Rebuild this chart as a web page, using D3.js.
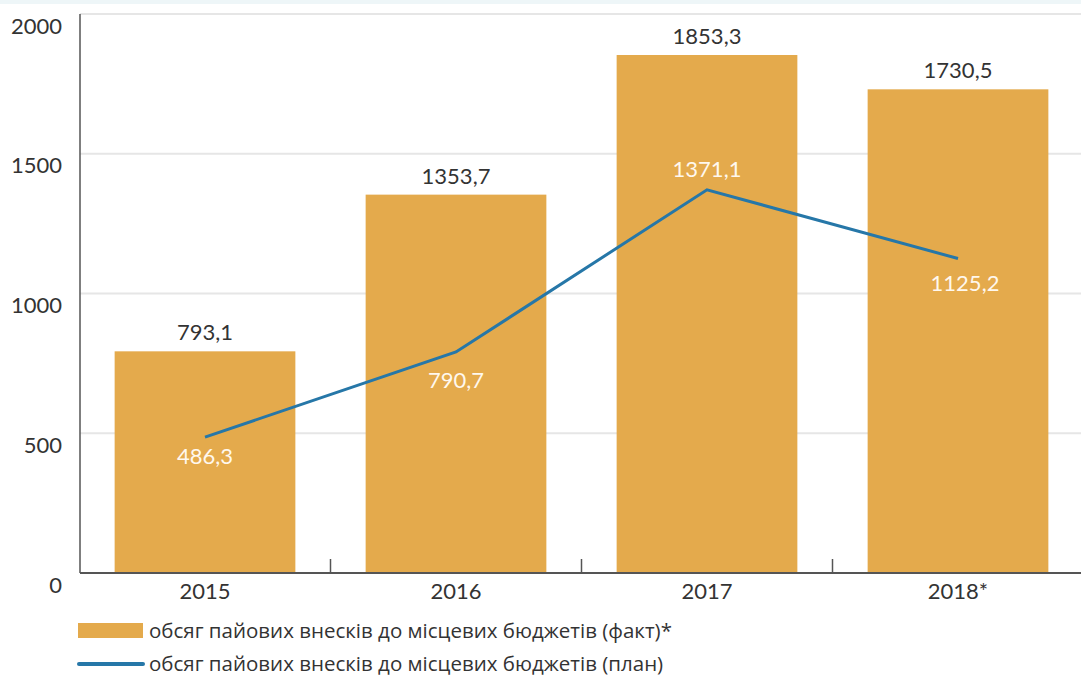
<!DOCTYPE html>
<html>
<head>
<meta charset="utf-8">
<script src="https://cdn.jsdelivr.net/npm/d3@7"></script>
<style>
  body { margin: 0; background: #fff; }
  svg { display: block; }
  .num { font-family: Lato, "Liberation Sans", sans-serif; font-size: 22px; }
  .legend text { font-family: "Open Sans", sans-serif; font-size: 20.5px; fill: #333; }
</style>
</head>
<body>
<div id="chart"></div>
<script>
// chart data
const years = ['2015', '2016', '2017', '2018'];
const yearLabels = ['2015', '2016', '2017', '2018*'];
const factValues = [793.1, 1353.7, 1853.3, 1730.5];
const planValues = [486.3, 790.7, 1371.1, 1125.2];
const yTicks = [0, 500, 1000, 1500, 2000];
const legendLabels = [
    'обсяг пайових внесків до місцевих бюджетів (факт)*',
    'обсяг пайових внесків до місцевих бюджетів (план)'
];

const width = 1081, height = 678;
const barColor = '#e4aa4c';
const lineColor = '#2677a8';

const svg = d3.select('#chart').append('svg')
    .attr('width', width)
    .attr('height', height);

// faint strip along the top edge
svg.append('rect')
    .attr('x', 0).attr('y', 0)
    .attr('width', width).attr('height', 4)
    .attr('fill', '#eef6f8');

const xScale = d3.scaleBand()
    .domain(years)
    .range([79.5, 1083.5])
    .paddingInner(0.28)
    .paddingOuter(0.14);

const yScale = d3.scaleLinear()
    .domain([0, 2000])
    .range([573, 14]);

const left = 80;

// gridlines
svg.append('g')
    .selectAll('line')
    .data(yTicks.filter(d => d > 0))
    .join('line')
    .attr('x1', left)
    .attr('x2', width)
    .attr('y1', d => yScale(d))
    .attr('y2', d => yScale(d))
    .attr('stroke', '#e6e6e6')
    .attr('stroke-width', 2);

// bars
svg.append('g')
    .selectAll('rect')
    .data(factValues)
    .join('rect')
    .attr('x', (d, i) => xScale(years[i]))
    .attr('y', d => yScale(d))
    .attr('width', xScale.bandwidth())
    .attr('height', d => yScale(0) - yScale(d))
    .attr('fill', barColor);

// y axis, labels sit a little below their gridline
const yAxisG = svg.append('g')
    .attr('transform', `translate(${left},0)`)
    .call(d3.axisLeft(yScale).tickValues(yTicks).tickSize(0).tickPadding(18).tickFormat(d3.format('d')));
yAxisG.select('.domain').remove();
yAxisG.selectAll('text')
    .attr('class', 'num')
    .attr('y', 12)
    .attr('fill', '#333')
    .style('font-size', '22px');

svg.append('line')
    .attr('x1', left).attr('x2', left)
    .attr('y1', yScale(2000)).attr('y2', yScale(0))
    .attr('stroke', '#555')
    .attr('stroke-width', 1.5);

// x axis
const xAxisG = svg.append('g')
    .attr('transform', `translate(0,${yScale(0)})`)
    .call(d3.axisBottom(xScale).tickSize(0).tickPadding(10).tickFormat((d, i) => yearLabels[i]));
xAxisG.select('.domain').remove();
xAxisG.selectAll('text')
    .attr('class', 'num')
    .attr('fill', '#333')
    .style('font-size', '22px');

svg.append('line')
    .attr('x1', left).attr('x2', width)
    .attr('y1', yScale(0)).attr('y2', yScale(0))
    .attr('stroke', '#555')
    .attr('stroke-width', 2);

// small ticks between categories
svg.append('g')
    .selectAll('line')
    .data(years.slice(1))
    .join('line')
    .attr('x1', d => xScale(d) - xScale.step() * xScale.paddingInner() / 2)
    .attr('x2', d => xScale(d) - xScale.step() * xScale.paddingInner() / 2)
    .attr('y1', yScale(0) - 14)
    .attr('y2', yScale(0))
    .attr('stroke', '#555')
    .attr('stroke-width', 1.5);

// bar value labels
svg.append('g')
    .selectAll('text')
    .data(factValues)
    .join('text')
    .attr('class', 'num')
    .attr('x', (d, i) => xScale(years[i]) + xScale.bandwidth() / 2)
    .attr('y', d => yScale(d) - 11)
    .attr('text-anchor', 'middle')
    .attr('fill', '#333')
    .text(d => d3.format('.1f')(d).replace('.', ','));

// plan line
const cx = i => xScale(years[i]) + xScale.bandwidth() / 2;
const line = d3.line()
    .x((d, i) => cx(i))
    .y(d => yScale(d));

svg.append('path')
    .datum(planValues)
    .attr('d', line)
    .attr('fill', 'none')
    .attr('stroke', lineColor)
    .attr('stroke-width', 3);

// plan value labels, offsets per point as in the original layout
const planOffsets = [27, 36, -13, 32];
const planDx = [0, 0, 0, 7];
svg.append('g')
    .selectAll('text')
    .data(planValues)
    .join('text')
    .attr('class', 'num')
    .attr('x', (d, i) => cx(i) + planDx[i])
    .attr('y', (d, i) => yScale(d) + planOffsets[i])
    .attr('text-anchor', 'middle')
    .attr('fill', '#fff8ee')
    .text(d => d3.format('.1f')(d).replace('.', ','));

// legend
const legend = svg.append('g').attr('class', 'legend');
legend.append('rect')
    .attr('x', 78).attr('y', 623)
    .attr('width', 65).attr('height', 15)
    .attr('fill', barColor);
legend.append('line')
    .attr('x1', 79).attr('x2', 143)
    .attr('y1', 664).attr('y2', 664)
    .attr('stroke', lineColor)
    .attr('stroke-width', 4)
    .attr('stroke-linecap', 'round');
legend.selectAll('text')
    .data(legendLabels)
    .join('text')
    .attr('x', 149)
    .attr('y', (d, i) => 638 + i * 33)
    .text(d => d);
</script>
</body>
</html>
